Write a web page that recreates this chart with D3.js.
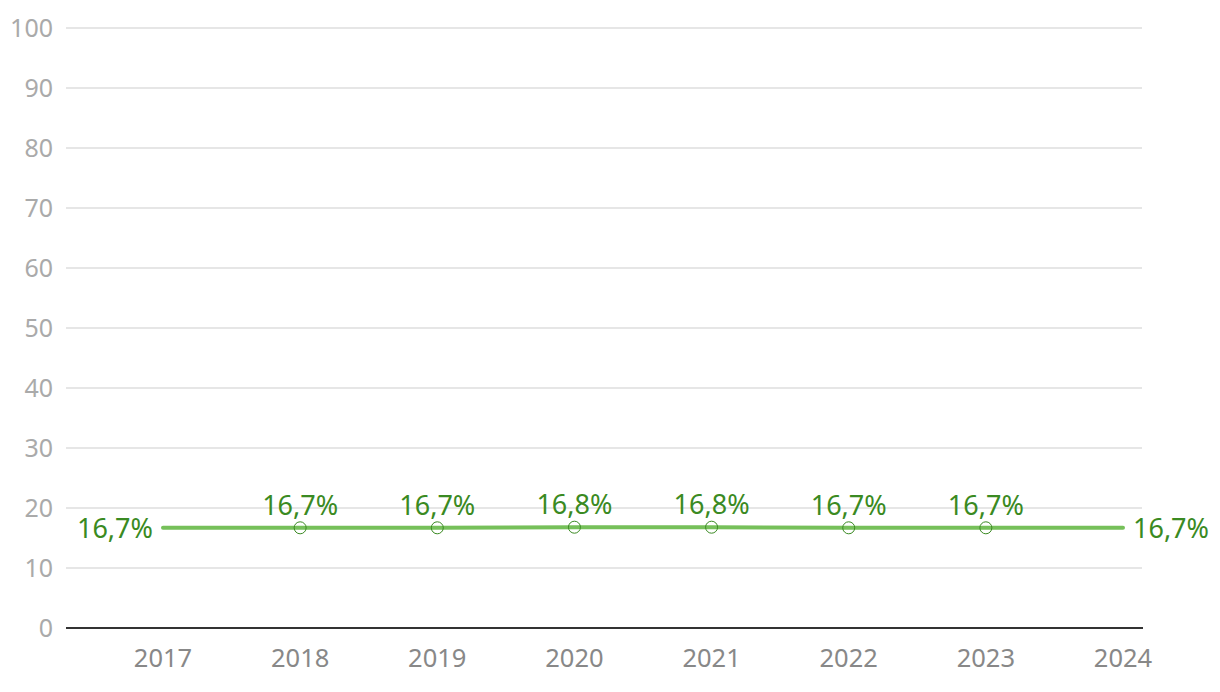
<!DOCTYPE html>
<html><head><meta charset="utf-8">
<script src="https://cdn.jsdelivr.net/npm/d3@7"></script>
<style>body{margin:0;background:#fff}svg{display:block}text{font-family:"Noto Sans",sans-serif}</style>
</head><body>
<svg id="c" width="1220" height="692"></svg>
<script>
const years = ["2017","2018","2019","2020","2021","2022","2023","2024"];
const values = [16.7,16.7,16.7,16.8,16.8,16.7,16.7,16.7];
const yTicks = [0,10,20,30,40,50,60,70,80,90,100];

const svg = d3.select("#c");
const x = d3.scalePoint().domain(years).range([163,1123]);
const y = d3.scaleLinear().domain([0,100]).range([628,28]);
const fmt = v => v.toFixed(1).replace(".",",")+"%";

// grid
svg.append("g").selectAll("line").data(yTicks.filter(d=>d>0)).join("line")
  .attr("x1",66).attr("x2",1142).attr("y1",d=>y(d)).attr("y2",d=>y(d))
  .attr("stroke","#e6e6e6").attr("stroke-width",2);
// y labels
svg.append("g").selectAll("text").data(yTicks).join("text")
  .attr("x",53).attr("y",d=>y(d)).attr("dy","0.36em").attr("text-anchor","end")
  .attr("fill","#aaaaaa").attr("font-size",25).text(d=>d);
// baseline
svg.append("line").attr("x1",66).attr("x2",1143).attr("y1",y(0)).attr("y2",y(0))
  .attr("stroke","#333").attr("stroke-width",2);
// x labels
svg.append("g").selectAll("text").data(years).join("text")
  .attr("x",d=>x(d)).attr("y",658).attr("dy","0.36em").attr("text-anchor","middle")
  .attr("fill","#888").attr("font-size",25.5).text(d=>d);
// line
const data = years.map((yr,i)=>({yr,v:values[i]}));
svg.append("path").datum(data)
  .attr("d",d3.line().x(d=>x(d.yr)).y(d=>y(d.v)))
  .attr("fill","none").attr("stroke","#76c05a").attr("stroke-width",4).attr("stroke-linecap","round");
// markers (inner)
const inner = data.slice(1,-1);
svg.append("g").selectAll("circle").data(inner).join("circle")
  .attr("cx",d=>x(d.yr)).attr("cy",d=>y(d.v)).attr("r",6)
  .attr("fill","none").attr("stroke","#3a8a22").attr("stroke-width",1);
svg.append("g").selectAll("text").data(inner).join("text")
  .attr("x",d=>x(d.yr)).attr("y",d=>y(d.v)-23).attr("dy","0.36em").attr("text-anchor","middle")
  .attr("fill","#3a8a22").attr("font-size",27).text(d=>fmt(d.v));
// end labels
const first = data[0], last = data[data.length-1];
svg.append("text").attr("x",x(first.yr)-10).attr("y",y(first.v)).attr("dy","0.36em")
  .attr("text-anchor","end").attr("fill","#3a8a22").attr("font-size",27).text(fmt(first.v));
svg.append("text").attr("x",x(last.yr)+10).attr("y",y(last.v)).attr("dy","0.36em")
  .attr("text-anchor","start").attr("fill","#3a8a22").attr("font-size",27).text(fmt(last.v));
</script>
</body></html>
